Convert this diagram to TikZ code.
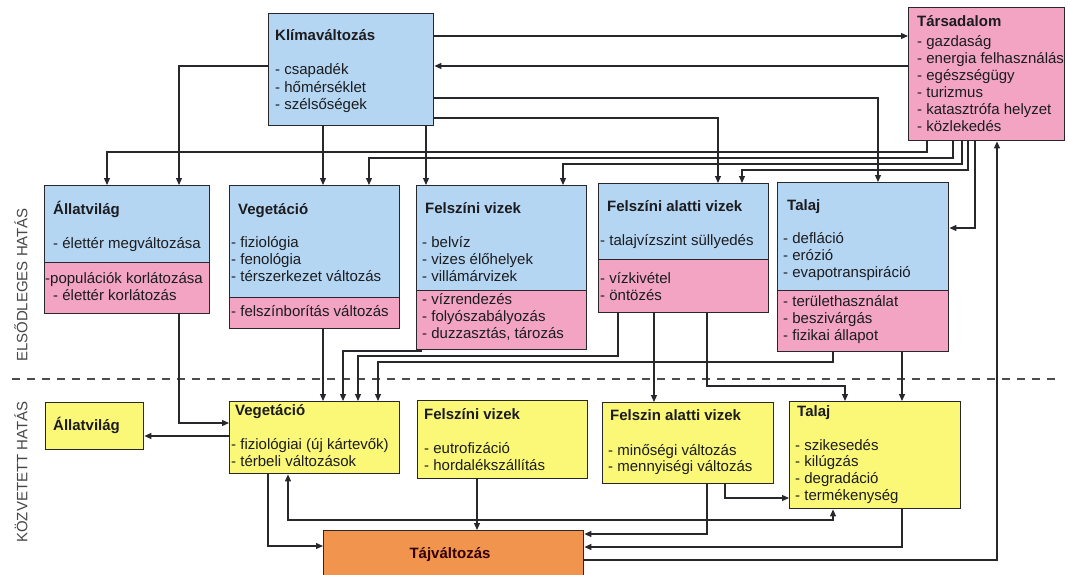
\documentclass[tikz,border=0pt]{standalone}
\usepackage{fontspec}
\setmainfont{Liberation Sans}
\usetikzlibrary{arrows.meta}
\definecolor{boxblue}{RGB}{180,214,242}
\definecolor{boxpink}{RGB}{242,164,194}
\definecolor{boxyellow}{RGB}{250,248,118}
\definecolor{boxorange}{RGB}{240,148,78}
\definecolor{ink}{RGB}{28,28,32}
\definecolor{wire}{RGB}{40,40,44}
\begin{document}
\begin{tikzpicture}[x=1pt,y=-1pt,
  box/.style={draw=wire, line width=1.4pt, inner sep=0pt, anchor=north west},
  txt/.style={anchor=west, inner sep=0pt, text=ink, font=\fontsize{15}{17}\selectfont, text height=10.5pt, text depth=3pt},
  ttl/.style={txt, font=\fontsize{15}{17}\selectfont\bfseries},
  arr/.style={draw=wire, line width=1.2pt, -{Triangle[length=7pt,width=6pt]}},
  arrboth/.style={draw=wire, line width=1.2pt, {Triangle[length=7pt,width=6pt]}-{Triangle[length=7pt,width=6pt]}},
  side/.style={rotate=90, text=black!72, font=\fontsize{15}{17}\selectfont, inner sep=0pt}
]
\clip (0,0) rectangle (1068,575);
\fill[white] (0,0) rectangle (1068,575);

% ---------- primary effects ----------
\node[box, fill=boxblue, minimum width=165pt, minimum height=112pt] (klima) at (268,13) {};
\node[box, fill=boxpink, minimum width=156pt, minimum height=133pt] (tars) at (908,7) {};

\node[box, fill=boxblue, minimum width=165pt, minimum height=77pt] (allB) at (44,185) {};
\node[box, fill=boxpink, minimum width=165pt, minimum height=51pt] (allP) at (44,262) {};
\node[box, fill=boxblue, minimum width=170pt, minimum height=112pt] (vegB) at (229,185) {};
\node[box, fill=boxpink, minimum width=170pt, minimum height=31pt] (vegP) at (229,297) {};
\node[box, fill=boxblue, minimum width=170pt, minimum height=105pt] (fvB) at (416,185) {};
\node[box, fill=boxpink, minimum width=170pt, minimum height=59pt] (fvP) at (416,290) {};
\node[box, fill=boxblue, minimum width=170pt, minimum height=76pt] (faB) at (598,183) {};
\node[box, fill=boxpink, minimum width=170pt, minimum height=53pt] (faP) at (598,259) {};
\node[box, fill=boxblue, minimum width=171pt, minimum height=108pt] (talB) at (777,182) {};
\node[box, fill=boxpink, minimum width=171pt, minimum height=61pt] (talP) at (777,290) {};

% ---------- secondary effects ----------
\node[box, fill=boxyellow, minimum width=98pt, minimum height=47pt] (allY) at (45,402) {};
\node[box, fill=boxyellow, minimum width=170pt, minimum height=72pt] (vegY) at (229,401) {};
\node[box, fill=boxyellow, minimum width=170pt, minimum height=78pt] (fvY) at (417,400) {};
\node[box, fill=boxyellow, minimum width=171pt, minimum height=81pt] (faY) at (602,402) {};
\node[box, fill=boxyellow, minimum width=171pt, minimum height=107pt] (talY) at (789,401) {};
\node[box, fill=boxorange, minimum width=260pt, minimum height=55pt] (taj) at (323,530) {};

% ---------- texts ----------
\node[ttl] (k0) at (275,37) {Klímaváltozás};
\node[txt] (k1) at (275,71) {- csapadék};
\node[txt] (k2) at (275,89) {- hőmérséklet};
\node[txt] (k3) at (275,106) {- szélsőségek};

\node[ttl] (t0) at (917,23) {Társadalom};
\node[txt] (t1) at (917,43) {- gazdaság};
\node[txt] (t2) at (917,60) {- energia felhasználás};
\node[txt] (t3) at (917,77) {- egészségügy};
\node[txt] (t4) at (917,94) {- turizmus};
\node[txt] (t5) at (917,111) {- katasztrófa helyzet};
\node[txt] (t6) at (917,128) {- közlekedés};

\node[ttl] (a0) at (53,211) {Állatvilág};
\node[txt] (a1) at (53,245) {- élettér megváltozása};
\node[txt] (a2) at (45,280) {-populációk korlátozása};
\node[txt] (a3) at (53,297) {- élettér korlátozás};

\node[ttl] (v0) at (238,211) {Vegetáció};
\node[txt] (v1) at (231,244) {- fiziológia};
\node[txt] (v2) at (231,261) {- fenológia};
\node[txt] (v3) at (231,278) {- térszerkezet változás};
\node[txt] (v4) at (231,313) {- felszínborítás változás};

\node[ttl] (f0) at (425,210) {Felszíni vizek};
\node[txt] (f1) at (422,244) {- belvíz};
\node[txt] (f2) at (422,261) {- vizes élőhelyek};
\node[txt] (f3) at (422,278) {- villámárvizek};
\node[txt] (f4) at (422,301) {- vízrendezés};
\node[txt] (f5) at (422,318) {- folyószabályozás};
\node[txt] (f6) at (422,335) {- duzzasztás, tározás};

\node[ttl] (g0) at (607,208) {Felszíni alatti vizek};
\node[txt] (g1) at (600,242) {- talajvízszint süllyedés};
\node[txt] (g2) at (600,280) {- vízkivétel};
\node[txt] (g3) at (600,297) {- öntözés};

\node[ttl] (s0) at (787,207) {Talaj};
\node[txt] (s1) at (783,240) {- defláció};
\node[txt] (s2) at (783,257) {- erózió};
\node[txt] (s3) at (783,274) {- evapotranspiráció};
\node[txt] (s4) at (783,303) {- területhasználat};
\node[txt] (s5) at (783,320) {- beszivárgás};
\node[txt] (s6) at (783,337) {- fizikai állapot};

\node[ttl] (ay0) at (53,427) {Állatvilág};

\node[ttl] (vy0) at (235,412) {Vegetáció};
\node[txt] (vy1) at (231,446) {- fiziológiai (új kártevők)};
\node[txt] (vy2) at (231,463) {- térbeli változások};

\node[ttl] (fy0) at (424,416) {Felszíni vizek};
\node[txt] (fy1) at (424,450) {- eutrofizáció};
\node[txt] (fy2) at (424,467) {- hordalékszállítás};

\node[ttl] (gy0) at (610,417) {Felszin alatti vizek};
\node[txt] (gy1) at (608,452) {- minőségi változás};
\node[txt] (gy2) at (608,468) {- mennyiségi változás};

\node[ttl] (sy0) at (797,413) {Talaj};
\node[txt] (sy1) at (795,447) {- szikesedés};
\node[txt] (sy2) at (795,463) {- kilúgzás};
\node[txt] (sy3) at (795,480) {- degradáció};
\node[txt] (sy4) at (795,497) {- termékenység};

\node[txt, anchor=center, font=\fontsize{15}{17}\selectfont\bfseries, text=black!80!red] (tj) at (450,555) {Tájváltozás};

% ---------- side labels and separator ----------
\node[side] (lab1) at (21,285) {ELSŐDLEGES HATÁS};
\node[side] (lab2) at (21,472) {KÖZVETETT HATÁS};
\coordinate (sepL) at (12,379);
\coordinate (sepR) at (1060,379);
\draw[draw=black!70, line width=1.4pt, dash pattern=on 8pt off 7pt] (sepL) -- (sepR);

% ---------- connectors: climate and society ----------
\draw[arr] (klima.east |- 0,36) -- (tars.west |- 0,36);
\draw[arr] (tars.west |- 0,66) -- (klima.east |- 0,66);
\draw[arr] (klima.east |- 0,98) -| (talB.north -| 878,0);
\draw[arr] (klima.east |- 0,118) -| (faB.north -| 718,0);
\draw[arr] (klima.west |- 0,66) -| (allB.north -| 179,0);
\draw[arr] (klima.south -| 323,0) -- (vegB.north -| 323,0);
\draw[arr] (klima.south -| 426,0) -- (fvB.north -| 426,0);

\draw[arr] (tars.south -| 927,0) |- (107,152) -- (allB.north -| 107,0);
\draw[arr] (tars.south -| 953,0) |- (369,158) -- (vegB.north -| 369,0);
\draw[arr] (tars.south -| 962,0) |- (563,164) -- (fvB.north -| 563,0);
\draw[arr] (tars.south -| 968,0) |- (742,170) -- (faB.north -| 742,0);
\draw[arr] (tars.south -| 975,0) |- (talB.east |- 0,228);

% ---------- connectors: primary to secondary ----------
\draw[arr] (allP.south -| 179,0) |- (vegY.west |- 0,423);
\draw[arr] (vegY.west |- 0,436) -- (allY.east |- 0,436);
\draw[arr] (vegP.south -| 323,0) -- (vegY.north -| 323,0);
\draw[arr] ([xshift=5pt]fvP.south west) |- (343,351) -- (vegY.north -| 343,0);
\draw[arr] (faP.south -| 618,0) |- (358,356) -- (vegY.north -| 358,0);
\draw[arr] (talP.south -| 833,0) |- (378,362) -- (vegY.north -| 378,0);
\draw[arr] (faP.south -| 654,0) -- (faY.north -| 654,0);
\draw[arr] (faP.south -| 707,0) |- (845,386) -- (talY.north -| 845,0);
\draw[arr] (talP.south -| 902,0) -- (talY.north -| 902,0);

% ---------- connectors: secondary effects ----------
\draw[arrboth] (vegY.south -| 288,0) |- (833,520) -- (talY.south -| 833,0);
\draw[arr] (vegY.south -| 268,0) |- (taj.west |- 0,546);
\draw[arr] (fvY.south -| 477,0) -- (taj.north -| 477,0);
\draw[arr] (faY.south -| 707,0) |- (taj.east |- 0,534);
\draw[arr] (faY.south -| 725,0) |- (talY.west |- 0,498);
\draw[arr] (talY.south -| 902,0) |- (taj.east |- 0,547);
\draw[arr] (taj.east |- 0,560) -| (tars.south -| 997,0);
\end{tikzpicture}
\end{document}
